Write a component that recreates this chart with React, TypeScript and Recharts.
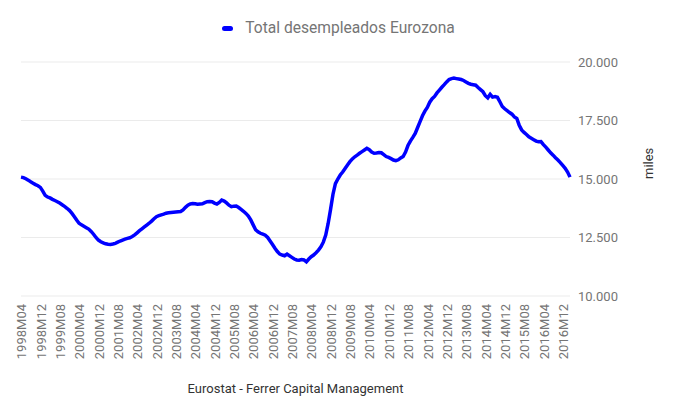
import React from 'react';
import {
  LineChart,
  Line,
  XAxis,
  YAxis,
  CartesianGrid,
  Legend,
} from 'recharts';

// Total desempleados Eurozona, miles, mensual 1998M04 - 2017M03
const START_YEAR = 1998;
const START_MONTH = 4;
const SERIES_NAME = 'Total desempleados Eurozona';

const v1998 = [15080, 15060, 15010, 14950, 14880, 14820, 14760, 14713, 14640];
const v1999 = [14480, 14300, 14230, 14190, 14130, 14080, 14030, 13970, 13900, 13830, 13750, 13660];
const v2000 = [13540, 13400, 13250, 13110, 13040, 12980, 12920, 12860, 12760, 12640, 12500, 12390];
const v2001 = [12320, 12270, 12230, 12210, 12200, 12220, 12250, 12300, 12350, 12390, 12430, 12465];
const v2002 = [12490, 12540, 12610, 12700, 12790, 12870, 12950, 13030, 13110, 13200, 13300, 13390];
const v2003 = [13430, 13470, 13500, 13540, 13560, 13570, 13580, 13590, 13600, 13610, 13680, 13790];
const v2004 = [13880, 13930, 13950, 13940, 13920, 13930, 13940, 13990, 14030, 14040, 14030, 13970];
const v2005 = [13930, 14000, 14100, 14060, 13980, 13880, 13815, 13840, 13845, 13780, 13700, 13620];
const v2006 = [13530, 13420, 13250, 13040, 12830, 12740, 12680, 12640, 12600, 12500, 12350, 12200];
const v2007 = [12040, 11900, 11790, 11750, 11720, 11790, 11720, 11650, 11580, 11540, 11530, 11560];
const v2008 = [11540, 11460, 11580, 11680, 11750, 11850, 11960, 12100, 12300, 12600, 13100, 13700];
const v2009 = [14350, 14800, 15000, 15170, 15300, 15450, 15600, 15740, 15860, 15950, 16020, 16100];
const v2010 = [16170, 16240, 16310, 16250, 16150, 16100, 16110, 16130, 16120, 16040, 15960, 15920];
const v2011 = [15870, 15810, 15780, 15820, 15900, 15960, 16150, 16430, 16620, 16780, 16950, 17200];
const v2012 = [17450, 17700, 17900, 18060, 18280, 18430, 18530, 18680, 18800, 18920, 19030, 19150];
const v2013 = [19250, 19290, 19310, 19290, 19270, 19250, 19210, 19150, 19090, 19050, 19030, 19010];
const v2014 = [18910, 18820, 18730, 18560, 18470, 18620, 18500, 18520, 18490, 18300, 18100, 18000];
const v2015 = [17920, 17840, 17770, 17650, 17590, 17300, 17100, 16990, 16900, 16800, 16740, 16680];
const v2016 = [16620, 16590, 16600, 16470, 16360, 16240, 16120, 16020, 15910, 15810, 15700, 15580];
const v2017 = [15460, 15300, 15080];

const values = [
  ...v1998, ...v1999, ...v2000, ...v2001, ...v2002, ...v2003, ...v2004,
  ...v2005, ...v2006, ...v2007, ...v2008, ...v2009, ...v2010, ...v2011,
  ...v2012, ...v2013, ...v2014, ...v2015, ...v2016, ...v2017,
];

const yTicks = [10000, 12500, 15000, 17500, 20000];

const periodLabel = (i: number) => {
  const m = START_MONTH - 1 + i;
  const year = START_YEAR + Math.floor(m / 12);
  const month = (m % 12) + 1;
  return `${year}M${month < 10 ? '0' : ''}${month}`;
};

const data = values.map((value, i) => ({ period: periodLabel(i), value }));

// 20000 -> "20.000"
const fmt = (v: number) => Math.round(v).toString().replace(/\B(?=(\d{3})+(?!\d))/g, '.');

const LegendContent = () => (
  <div style={{ display: 'flex', justifyContent: 'center', alignItems: 'center', paddingLeft: 16 }}>
    <span
      style={{
        display: 'inline-block',
        width: 11,
        height: 5,
        borderRadius: 3,
        background: '#0000ff',
        marginRight: 12,
      }}
    />
    <span style={{ color: '#757575', fontSize: 15.6 }}>{SERIES_NAME}</span>
  </div>
);

export default function App() {
  return (
    <div style={{ position: 'absolute', left: 0, top: 0, fontFamily: 'Roboto, sans-serif' }}>
      <LineChart
        width={680}
        height={420}
        data={data}
        margin={{ top: 30, right: 40, left: 21, bottom: 14 }}
      >
        <CartesianGrid stroke="#ebebeb" vertical={false} />
        <Legend
          verticalAlign="top"
          align="center"
          height={32}
          wrapperStyle={{ top: 19 }}
          content={<LegendContent />}
        />
        <XAxis
          dataKey="period"
          interval={7}
          height={110}
          axisLine={false}
          tickLine={false}
          angle={-90}
          textAnchor="end"
          tick={{ fill: '#757575', fontSize: 13, dx: -4, dy: 0 }}
          label={{
            value: 'Eurostat - Ferrer Capital Management',
            position: 'insideBottom',
            offset: 13,
            fill: '#333333',
            fontSize: 13,
          }}
        />
        <YAxis
          orientation="right"
          domain={[10000, 20000]}
          ticks={yTicks}
          tickFormatter={fmt}
          width={70}
          axisLine={false}
          tickLine={false}
          tick={{ fill: '#757575', fontSize: 13 }}
          label={{
            value: 'miles',
            angle: -90,
            position: 'right',
            offset: 8,
            fill: '#333333',
            fontSize: 13,
          }}
        />
        <Line
          type="linear"
          dataKey="value"
          name={SERIES_NAME}
          stroke="#0000ff"
          strokeWidth={3.5}
          dot={false}
          isAnimationActive={false}
        />
      </LineChart>
    </div>
  );
}
